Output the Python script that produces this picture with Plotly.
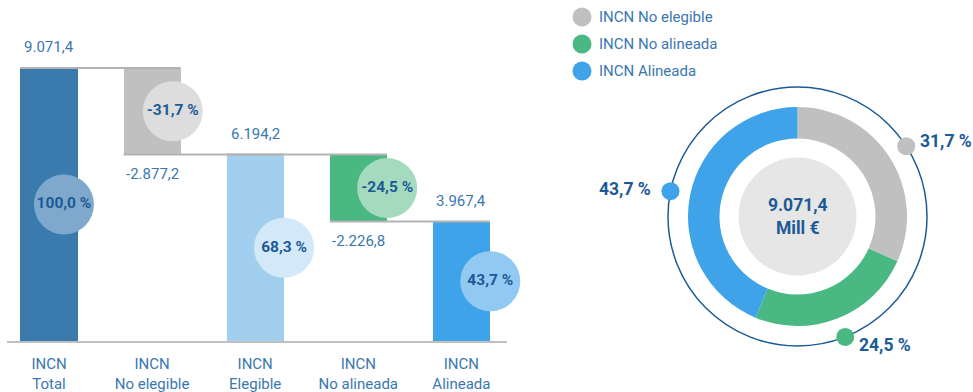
import math
import plotly.graph_objects as go

# ---- data -------------------------------------------------------------
categories = ["INCN<br>Total", "INCN<br>No elegible", "INCN<br>Elegible",
              "INCN<br>No alineada", "INCN<br>Alineada"]
# totals are absolute levels, deltas are reductions from the previous level
bar_kind = ["total", "delta", "total", "delta", "total"]
bar_values = [9071.4, -2877.2, 6194.2, -2226.8, 3967.4]

donut_labels = ["INCN No elegible", "INCN No alineada", "INCN Alineada"]
donut_values = [2877.2, 2226.8, 3967.4]
donut_total = 9071.4

# ---- style ------------------------------------------------------------
FONT = "Roboto"
DARK = "#1c5a96"
MID = "#3a77b0"
bar_colors = ["#3a7aad", "#c0c0c0", "#a3cfef", "#4ab882", "#3ea3e8"]
bubble_colors = ["#7ea9cc", "#dddddd", "#d3e8f8", "#a4dabe", "#91c9f3"]
bubble_dx = [0.145, 0.20, 0.28, 0.28, 0.28]
donut_colors = ["#c0c0c0", "#4ab882", "#3ea3e8"]
BAR_W = 0.553


def es(v, signed=False):
    s = f"{abs(v):,.1f}".replace(",", "X").replace(".", ",").replace("X", ".")
    return ("-" if (v < 0 and signed) else "") + s


# ---- waterfall geometry from the data ---------------------------------
bases, heights, levels = [], [], []
level = 0.0
for kind, v in zip(bar_kind, bar_values):
    if kind == "total":
        level = v
        bases.append(0.0)
        heights.append(v)
    else:
        bases.append(level + v)
        heights.append(-v)
        level = level + v
    levels.append(level)

xs = list(range(len(categories)))
total_ref = bar_values[0]

fig = go.Figure()

fig.add_trace(go.Bar(
    x=xs, y=heights, base=bases, width=BAR_W,
    marker=dict(color=bar_colors, line=dict(width=0)),
    hoverinfo="skip", showlegend=False, xaxis="x", yaxis="y",
))

# connector lines between consecutive bars
hw = BAR_W / 2
for i in range(len(xs) - 1):
    fig.add_trace(go.Scatter(
        x=[xs[i] - hw, xs[i + 1] + hw], y=[levels[i], levels[i]],
        mode="lines", line=dict(color="#b3b3b3", width=2),
        hoverinfo="skip", showlegend=False, xaxis="x", yaxis="y",
    ))

# percentage bubbles
pct = [v / total_ref * 100 for v in bar_values]
fig.add_trace(go.Scatter(
    x=[x + d for x, d in zip(xs, bubble_dx)],
    y=[b + h / 2 for b, h in zip(bases, heights)],
    mode="markers+text", cliponaxis=False,
    marker=dict(size=60, color=bubble_colors, line=dict(width=0)),
    text=[es(p, signed=True) + " %" for p in pct],
    textposition="middle center",
    textfont=dict(family=FONT, size=15.5, color=DARK, weight="bold"),
    hoverinfo="skip", showlegend=False, xaxis="x", yaxis="y",
))

# value labels
for i, (kind, v) in enumerate(zip(bar_kind, bar_values)):
    if kind == "total":
        y, shift = bases[i] + heights[i], 21
    else:
        y, shift = bases[i], -19
    fig.add_annotation(
        x=xs[i], y=y, xref="x", yref="y", yshift=shift,
        text=es(v, signed=True), showarrow=False,
        font=dict(family=FONT, size=15, color=MID),
        xanchor="center", yanchor="middle",
    )

# ---- donut ------------------------------------------------------------
W, H = 973, 392
CX, CY, R = 797.5, 216.5, 109.5      # donut centre (px from top-left) and radius
fig.add_trace(go.Pie(
    values=donut_values, labels=donut_labels, sort=False,
    direction="clockwise", rotation=0, hole=78 / 109.5,
    marker=dict(colors=donut_colors, line=dict(width=0)),
    textinfo="none", hoverinfo="skip", showlegend=False,
    domain=dict(x=[(CX - R) / W, (CX + R) / W],
                y=[(H - CY - R) / H, (H - CY + R) / H]),
))

# overlay axes in pixel units centred on the donut
X2D = [0.55, 1.0]
x2_range = [X2D[0] * W - CX, X2D[1] * W - CX]
y2_range = [-(H - CY), CY]

RING_R = 129.5
fig.add_shape(type="circle", xref="x2", yref="y2",
              x0=-RING_R, x1=RING_R, y0=-RING_R, y1=RING_R,
              line=dict(color=DARK, width=1.5), layer="below")

# inner grey disc
fig.add_trace(go.Scatter(
    x=[0], y=[0], mode="markers", cliponaxis=False,
    marker=dict(size=118, color="#e6e6e6", line=dict(width=0)),
    hoverinfo="skip", showlegend=False, xaxis="x2", yaxis="y2",
))
fig.add_annotation(
    x=0, y=0, xref="x2", yref="y2", showarrow=False,
    text=es(donut_total) + "<br>Mill €",
    font=dict(family=FONT, size=17.5, color=DARK, weight="bold"),
    align="center",
)

# ring dots at slice midpoints with percentage labels
cum = 0.0
dot_x, dot_y = [], []
for v, c in zip(donut_values, donut_colors):
    frac = v / donut_total
    mid = (cum + frac / 2) * 2 * math.pi
    cum += frac
    sx, cy = math.sin(mid), math.cos(mid)
    dx, dy = RING_R * sx, RING_R * cy
    dot_x.append(dx)
    dot_y.append(dy)
    right = sx >= 0
    fig.add_annotation(
        x=dx + (12 if right else -18), y=dy + 9 * cy,
        xref="x2", yref="y2", showarrow=False,
        text=es(frac * 100) + " %",
        font=dict(family=FONT, size=17.5, color=DARK, weight="bold"),
        xanchor="left" if right else "right", yanchor="middle",
    )
fig.add_trace(go.Scatter(
    x=dot_x, y=dot_y, mode="markers", cliponaxis=False,
    marker=dict(size=18, color=donut_colors, line=dict(width=0)),
    hoverinfo="skip", showlegend=False, xaxis="x2", yaxis="y2",
))

# legend
LEG_X, LEG_Y0, LEG_DY = 582 - CX, CY - 17, 27
leg_y = [LEG_Y0 - k * LEG_DY for k in range(len(donut_labels))]
fig.add_trace(go.Scatter(
    x=[LEG_X] * len(donut_labels), y=leg_y, mode="markers", cliponaxis=False,
    marker=dict(size=19, color=donut_colors, line=dict(width=0)),
    hoverinfo="skip", showlegend=False, xaxis="x2", yaxis="y2",
))
for lab, yy in zip(donut_labels, leg_y):
    fig.add_annotation(
        x=LEG_X + 15, y=yy, xref="x2", yref="y2", showarrow=False,
        text=lab, font=dict(family=FONT, size=15, color=MID),
        xanchor="left", yanchor="middle",
    )

# ---- layout -----------------------------------------------------------
X0, X1 = 7, 507
px_per = 103.1
x_range = [(X0 - 49) / px_per, (X1 - 49) / px_per]
base_px = 341
top_px = 68
y_domain = [(H - base_px) / H, 1.0]
y_top = (base_px - 0) / ((base_px - top_px) / bar_values[0])

fig.update_layout(
    width=W, height=H,
    margin=dict(l=0, r=0, t=0, b=0),
    paper_bgcolor="white", plot_bgcolor="rgba(0,0,0,0)",
    bargap=0,
    xaxis=dict(domain=[X0 / W, X1 / W], range=x_range,
               tickvals=xs, ticktext=categories,
               tickfont=dict(family=FONT, size=15, color=MID),
               showline=True, linecolor="#c0c0c0", linewidth=2,
               showgrid=False, zeroline=False, ticks="",
               ticklabelstandoff=8, fixedrange=True),
    yaxis=dict(domain=y_domain, range=[0, y_top], visible=False,
               showgrid=False, zeroline=False, fixedrange=True),
    xaxis2=dict(domain=X2D, range=x2_range, visible=False,
                showgrid=False, zeroline=False, anchor="y2"),
    yaxis2=dict(domain=[0, 1], range=y2_range, visible=False,
                showgrid=False, zeroline=False, anchor="x2"),
)

fig.write_html("out.html")
